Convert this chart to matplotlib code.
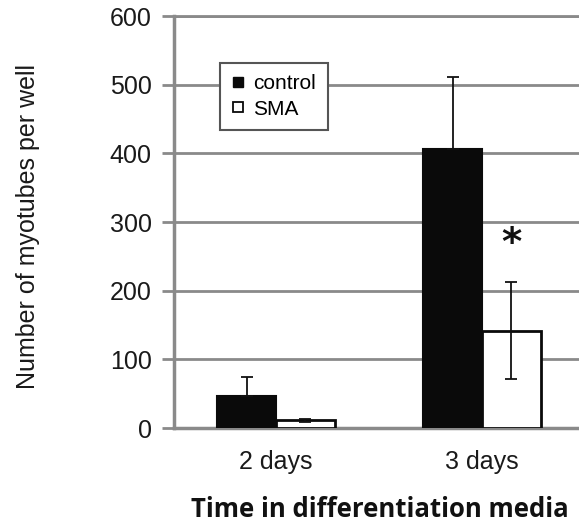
import numpy as np
import matplotlib.pyplot as plt
from matplotlib.lines import Line2D

groups = ['2 days', '3 days']
control = [47, 407]
control_err = [28, 104]
sma = [11, 142]
sma_err = [2, 70]
y_ticks = [0, 100, 200, 300, 400, 500, 600]

plt.rcParams['font.family'] = ['Liberation Sans', 'DejaVu Sans']

fig = plt.figure(figsize=(5.79, 5.23), dpi=100)
ax = fig.add_axes([0.3005, 0.1816, 0.6995, 0.7878])

x = np.arange(len(groups))
w = 0.286
grid_c = '#8a8a8a'

ax.bar(x - w / 2, control, width=w, color='#0a0a0a', edgecolor='#0a0a0a',
       linewidth=1.5, zorder=3, label='control')
ax.bar(x + w / 2, sma, width=w, color='white', edgecolor='#0a0a0a',
       linewidth=2, zorder=3, label='SMA')
# lower half of the control bars' error is hidden by the black bars
ax.errorbar(x - w / 2, control, yerr=[np.zeros(len(control)), control_err],
            fmt='none', ecolor='#111111', elinewidth=1.3, capsize=4,
            capthick=1.3, zorder=4)
ax.errorbar(x + w / 2, sma, yerr=sma_err, fmt='none', ecolor='#111111',
            elinewidth=1.3, capsize=4, capthick=1.3, zorder=4)

ax.text(1 + w / 2, 268, '*', ha='center', va='center', fontsize=28,
        fontweight='bold', family='DejaVu Sans', color='#111111', zorder=5)

ax.set_xlim(-0.495, 1.471)
ax.set_ylim(0, 600)
ax.set_yticks(y_ticks)
ax.set_xticks(x)
ax.set_xticklabels(groups)
ax.yaxis.grid(True, color=grid_c, linewidth=2, zorder=0)
ax.set_axisbelow(True)

ax.spines['right'].set_visible(False)
ax.spines['top'].set_color(grid_c)
ax.spines['top'].set_linewidth(2)
ax.spines['left'].set_color(grid_c)
ax.spines['left'].set_linewidth(2.5)
ax.spines['bottom'].set_color(grid_c)
ax.spines['bottom'].set_linewidth(2.5)

ax.tick_params(axis='y', length=9, width=2, color=grid_c, pad=7,
               labelsize=18, labelcolor='#1a1a1a')
ax.tick_params(axis='x', length=0, pad=16, labelsize=18,
               labelcolor='#1a1a1a')

ax.set_ylabel('Number of myotubes per well', fontsize=18, color='#1a1a1a')
ax.yaxis.set_label_coords(-0.33, 0.489)
ax.set_xlabel('Time in differentiation media', fontsize=18.5,
              fontweight='bold', family='Open Sans', color='#111111')
ax.xaxis.set_label_coords(0.509, -0.164)

handles = [Line2D([], [], marker='s', linestyle='none', markersize=7,
                  markerfacecolor='#0a0a0a', markeredgecolor='#0a0a0a'),
           Line2D([], [], marker='s', linestyle='none', markersize=7,
                  markerfacecolor='white', markeredgecolor='#0a0a0a',
                  markeredgewidth=1.3)]
leg = ax.legend(handles, ['control', 'SMA'], loc='upper left',
                bbox_to_anchor=(0.114, 0.886), borderaxespad=0,
                fontsize=15, handlelength=0.6, handletextpad=0.45,
                labelspacing=0.3, borderpad=0.55, fancybox=False,
                framealpha=1, edgecolor='#555555')
leg.get_frame().set_linewidth(1.5)
leg.set_zorder(6)

fig.savefig('out.png', dpi=100)
